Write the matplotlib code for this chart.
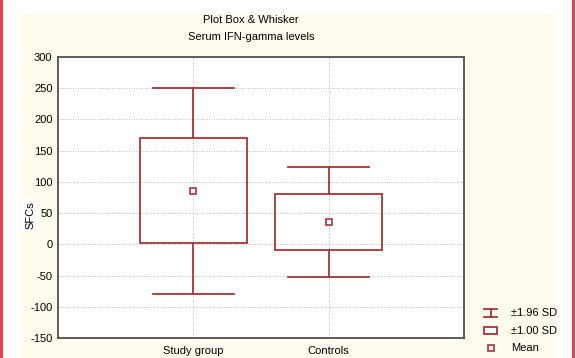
import matplotlib

matplotlib.use("Agg")
import matplotlib.pyplot as plt
from matplotlib.lines import Line2D
from matplotlib.patches import Rectangle

plt.rcParams["font.family"] = ["Liberation Sans", "DejaVu Sans"]
plt.rcParams["font.size"] = 8
plt.rcParams["axes.unicode_minus"] = False

# Serum IFN-gamma (SFCs): group means and standard deviations
groups = ["Study group", "Controls"]
means = [85.5, 36.0]
sds = [84.0, 45.0]
y_ticks = [-150, -100, -50, 0, 50, 100, 150, 200, 250, 300]

RED = "#a5363b"
CREAM = "#fffcef"
FRAME = "#505050"

W, H = 576, 358
fig = plt.figure(figsize=(W / 100, H / 100), dpi=100)
fig.patch.set_facecolor("white")

# cream panel and red side rules
fig.patches.append(Rectangle((20 / W, 0), (556 - 20) / W, (H - 14) / H,
                             transform=fig.transFigure, facecolor=CREAM,
                             edgecolor="none", zorder=-10))
for xr in (1.0, 573.0):
    fig.add_artist(Line2D([xr / W, xr / W], [0, 1], transform=fig.transFigure,
                          color="#e4434d", lw=2.2))

ax = fig.add_axes([58 / W, (H - 338) / H, (464 - 58) / W, (338 - 57) / H])
ax.set_facecolor("white")

pos = range(1, len(groups) + 1)
box_w = 0.79
cap_w = 0.6
for x, m, s in zip(pos, means, sds):
    lo2, hi2 = m - 1.96 * s, m + 1.96 * s
    lo1, hi1 = m - s, m + s
    ax.plot([x, x], [hi1, hi2], color=RED, lw=1.3, zorder=3)
    ax.plot([x, x], [lo2, lo1], color=RED, lw=1.3, zorder=3)
    ax.plot([x - cap_w / 2, x + cap_w / 2], [hi2, hi2], color=RED, lw=1.3, zorder=3)
    ax.plot([x - cap_w / 2, x + cap_w / 2], [lo2, lo2], color=RED, lw=1.3, zorder=3)
    ax.add_patch(Rectangle((x - box_w / 2, lo1), box_w, hi1 - lo1,
                           facecolor="none", edgecolor=RED, lw=1.3, zorder=3))
    ax.plot([x], [m], marker="s", ms=4.5, mfc="white", mec=RED, mew=1.2,
            ls="none", zorder=4)

ax.set_xlim(0, len(groups) + 1)
ax.set_ylim(-150, 300)
ax.set_xticks(list(pos))
ax.set_xticklabels(groups)
ax.set_yticks(y_ticks)
ax.tick_params(axis="y", length=0, pad=4, labelsize=8, colors="black")
ax.tick_params(axis="x", length=0, pad=6, labelsize=8, colors="black")
ax.grid(True, ls=(0, (1, 1.5)), color="#c0c0c0", lw=0.7)
ax.set_axisbelow(True)
for sp in ax.spines.values():
    sp.set_color(FRAME)
    sp.set_linewidth(1.3)

fig.text(251 / W, 1 - 20 / H, "Plot Box & Whisker", ha="center", va="center",
         fontsize=8)
fig.text(251 / W, 1 - 37 / H, "Serum IFN-gamma levels", ha="center",
         va="center", fontsize=8)

fig.text(30 / W, 1 - 215 / H, "SFCs", rotation=90, ha="center", va="center",
         fontsize=8, bbox=dict(facecolor="white", edgecolor="none", pad=2))

# legend drawn in figure pixel space
lg = fig.add_axes([0, 0, 1, 1], facecolor="none")
lg.set_xlim(0, W)
lg.set_ylim(H, 0)
lg.axis("off")
lg.plot([484, 497], [309, 309], color=RED, lw=1.3)
lg.plot([484, 497], [317, 317], color=RED, lw=1.3)
lg.plot([490.5, 490.5], [309, 317], color=RED, lw=1.3)
lg.add_patch(Rectangle((484, 327), 13, 7, facecolor="white", edgecolor=RED, lw=1.3))
lg.plot([490.5], [348], marker="s", ms=4.5, mfc="white", mec=RED, mew=1.2)
for yy, txt in zip([313, 330.5, 348], ["±1.96 SD", "±1.00 SD", "Mean"]):
    lg.text(511, yy, txt, ha="left", va="center", fontsize=8)

fig.savefig("out.png", dpi=100)
